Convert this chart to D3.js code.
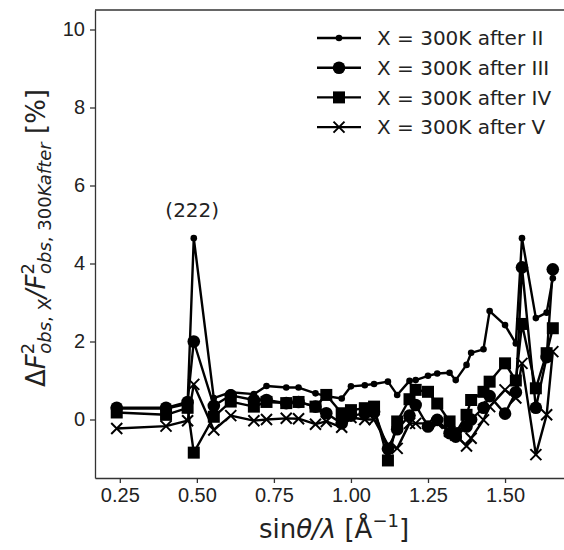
<!DOCTYPE html>
<html>
<head>
<meta charset="utf-8">
<script src="https://cdn.jsdelivr.net/npm/d3@7"></script>
<style>
  body { margin: 0; background: #fff; }
  svg { display: block; font-family: "DejaVu Sans", sans-serif; }
  .axis text { font-size: 20px; fill: #222; }
  .axis path, .axis line { stroke: #333; stroke-width: 1.3; }
  .series path.line { fill: none; stroke: #000; stroke-width: 2.4; stroke-linejoin: round; }
</style>
</head>
<body>
<svg id="chart" width="564" height="550"></svg>
<script>
// sin(theta)/lambda of the reflections, shared by all series
var sinThetaLambda = [0.24, 0.40, 0.47, 0.49, 0.555, 0.61, 0.685, 0.726, 0.79, 0.83,
    0.885, 0.92, 0.97, 1.00, 1.045, 1.075, 1.12, 1.15, 1.19, 1.21,
    1.25, 1.28, 1.32, 1.34, 1.375, 1.39, 1.43, 1.45, 1.50, 1.535,
    1.555, 1.60, 1.635, 1.655];

var afterII = [0.28, 0.28, 0.40, 4.65, 0.55, 0.70, 0.65, 0.86, 0.82, 0.82,
    0.67, 0.60, 0.54, 0.85, 0.88, 0.91, 0.97, 0.63, 0.99, 1.01,
    1.12, 1.18, 1.20, 1.01, 1.40, 1.71, 1.80, 2.78, 2.42, 1.95,
    4.65, 2.60, 2.74, 3.62];
var afterIII = [0.30, 0.30, 0.45, 2.00, 0.35, 0.62, 0.50, 0.50, 0.42, 0.45,
    0.33, 0.16, -0.10, 0.10, 0.15, 0.20, -0.75, -0.25, 0.10, 0.37,
    -0.18, -0.01, -0.35, -0.44, -0.18, 0.00, 0.30, 0.60, 0.15, 0.70,
    3.90, 0.30, 1.60, 3.85];
var afterIV = [0.18, 0.12, 0.30, -0.85, 0.07, 0.46, 0.33, 0.45, 0.42, 0.45,
    0.33, 0.63, 0.16, 0.24, 0.29, 0.33, -1.05, -0.05, 0.52, 0.76,
    0.71, 0.41, -0.05, -0.35, 0.12, 0.50, 0.71, 0.97, 1.44, 1.00,
    2.45, 0.80, 1.70, 2.34];
var afterV = [-0.23, -0.17, -0.03, 0.90, -0.27, 0.10, -0.03, 0.00, 0.03, 0.02,
    -0.12, -0.05, -0.20, 0.05, 0.00, 0.00, -0.65, -0.74, -0.10, -0.10,
    -0.10, -0.10, -0.30, -0.40, -0.68, -0.48, -0.01, 0.33, 0.76, 0.55,
    1.44, -0.90, 0.12, 1.74];

var seriesNames = ["X = 300K after II", "X = 300K after III",
    "X = 300K after IV", "X = 300K after V"];
var seriesValues = [afterII, afterIII, afterIV, afterV];
var markerTypes = ["dot", "circle", "square", "cross"];

var xTicks = [0.25, 0.50, 0.75, 1.00, 1.25, 1.50];
var yTicks = [0, 2, 4, 6, 8, 10];

var margin = {top: 10, left: 95};
var width = 478;   // right spine falls just outside the picture
var height = 468;

var svg = d3.select("#chart");

var xScale = d3.scaleLinear().domain([0.1695, 1.7205]).range([0, width]);
var yScale = d3.scaleLinear().domain([-1.5, 10.5]).range([height, 0]);

var chart = svg.append("g")
    .attr("transform", `translate(${margin.left}, ${margin.top})`);

chart.append("clipPath")
    .attr("id", "plot-clip")
    .append("rect")
    .attr("width", width)
    .attr("height", height);

// axes
chart.append("g")
    .attr("class", "x axis")
    .attr("transform", `translate(0, ${height})`)
    .call(d3.axisBottom(xScale)
        .tickValues(xTicks)
        .tickSizeInner(5).tickSizeOuter(0).tickPadding(5)
        .tickFormat(d3.format(".2f")));

chart.append("g")
    .attr("class", "y axis")
    .call(d3.axisLeft(yScale)
        .tickValues(yTicks)
        .tickSizeInner(5).tickSizeOuter(0).tickPadding(5));

chart.append("line")
    .attr("x1", 0).attr("x2", width)
    .attr("y1", 0).attr("y2", 0)
    .attr("stroke", "#333").attr("stroke-width", 1.3);

// series
var plot = chart.append("g").attr("clip-path", "url(#plot-clip)");

var line = d3.line()
    .x(function(d) { return xScale(d.x); })
    .y(function(d) { return yScale(d.y); });

function drawMarker(g, type, x, y) {
  if (type == "dot") {
    g.append("circle").attr("cx", x).attr("cy", y).attr("r", 3.3);
  } else if (type == "circle") {
    g.append("circle").attr("cx", x).attr("cy", y).attr("r", 6.3);
  } else if (type == "square") {
    g.append("rect").attr("x", x - 6).attr("y", y - 6)
        .attr("width", 12).attr("height", 12);
  } else {
    var s = 5.5;
    g.append("path")
        .attr("d", `M ${x - s} ${y - s} L ${x + s} ${y + s} M ${x - s} ${y + s} L ${x + s} ${y - s}`)
        .attr("stroke", "#000").attr("stroke-width", 2);
  }
}

seriesValues.forEach(function(values, i) {
  var data = values.map(function(v, j) { return {x: sinThetaLambda[j], y: v}; });
  var g = plot.append("g").attr("class", "series");
  g.append("path").attr("class", "line").attr("d", line(data));
  data.forEach(function(d) {
    drawMarker(g, markerTypes[i], xScale(d.x), yScale(d.y));
  });
});

// annotation
chart.append("text")
    .attr("x", xScale(0.485))
    .attr("y", yScale(5.2))
    .attr("text-anchor", "middle")
    .style("font-size", "20px")
    .attr("fill", "#222")
    .text("(222)");

// legend
var legend = svg.append("g").attr("transform", "translate(317, 38)");
seriesNames.forEach(function(name, i) {
  var row = legend.append("g").attr("transform", `translate(0, ${i * 29.7})`);
  row.append("line")
      .attr("x1", 0).attr("x2", 44).attr("y1", 0).attr("y2", 0)
      .attr("stroke", "#000").attr("stroke-width", 2.4);
  drawMarker(row, markerTypes[i], 22, 0);
  row.append("text")
      .attr("x", 60)
      .attr("y", 0)
      .attr("dy", "0.36em")
      .style("font-size", "20px")
      .attr("fill", "#222")
      .text(name);
});

// x label
var xLabel = svg.append("text")
    .attr("x", margin.left + xScale(0.945))
    .attr("y", 538)
    .attr("text-anchor", "middle")
    .style("font-size", "26px")
    .attr("fill", "#222");
xLabel.append("tspan").text("sin");
xLabel.append("tspan").style("font-style", "italic").text("θ/λ");
xLabel.append("tspan").text(" [Å");
xLabel.append("tspan").attr("dy", -11).style("font-size", "18px").text("−1");
xLabel.append("tspan").attr("dy", 11).text("]");

// y label
var yLabel = svg.append("text")
    .attr("transform", `translate(45, ${margin.top + height / 2 - 6}) rotate(-90)`)
    .attr("text-anchor", "middle")
    .style("font-size", "26px")
    .attr("fill", "#222");
yLabel.append("tspan").text("Δ");
yLabel.append("tspan").style("font-style", "italic").text("F");
yLabel.append("tspan").attr("dy", -11).style("font-size", "18px").text("2");
yLabel.append("tspan").attr("dx", -11).attr("dy", 17).style("font-size", "18px")
    .style("font-style", "italic").text("obs");
yLabel.append("tspan").style("font-size", "18px").text(", X");
yLabel.append("tspan").attr("dy", -6).style("font-style", "italic").text("/F");
yLabel.append("tspan").attr("dy", -11).style("font-size", "18px").text("2");
yLabel.append("tspan").attr("dx", -11).attr("dy", 17).style("font-size", "18px")
    .style("font-style", "italic").text("obs");
yLabel.append("tspan").style("font-size", "18px").text(", 300");
yLabel.append("tspan").style("font-size", "18px").style("font-style", "italic").text("Kafter");
yLabel.append("tspan").attr("dy", -6).text(" [%]");
</script>
</body>
</html>
